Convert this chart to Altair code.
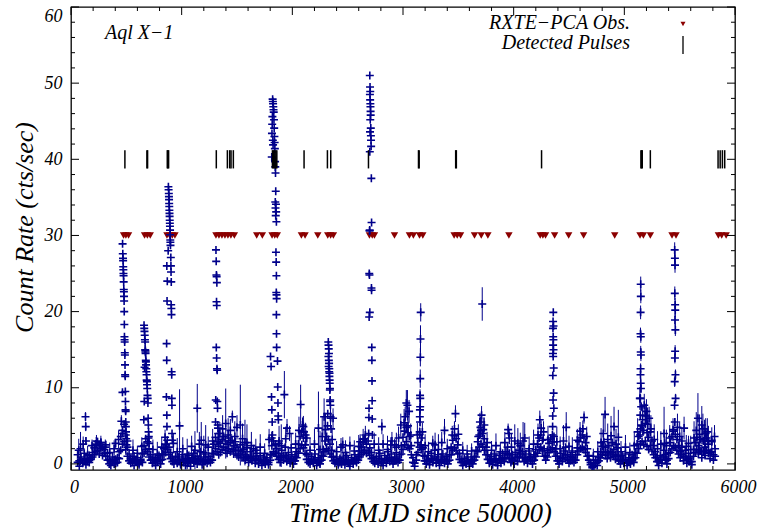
import altair as alt
import pandas as pd

NAVY = "#00008B"
DARKRED = "#8B0000"
FONT = "Liberation Serif"

# ---------------- axis tick values ----------------
x_major = [0, 1000, 2000, 3000, 4000, 5000, 6000]
x_minor = [200, 400, 600, 800, 1200, 1400, 1600, 1800, 2200, 2400, 2600, 2800,
           3200, 3400, 3600, 3800, 4200, 4400, 4600, 4800, 5200, 5400, 5600, 5800]
y_major = [0, 10, 20, 30, 40, 50, 60]
y_minor = [2, 4, 6, 8, 12, 14, 16, 18, 22, 24, 26, 28, 32, 34, 36, 38,
           42, 44, 46, 48, 52, 54, 56, 58]

# ---------------- quiescent / baseline light curve ----------------
base_t = [
    60, 75, 90, 105, 120, 135, 150, 165, 180, 195, 210, 225, 240, 255, 270, 285, 300, 315, 330, 345,
    360, 375, 390, 405, 420, 435, 450, 465, 480, 495, 510, 525, 540, 555, 570, 585, 600, 615, 630, 645,
    660, 675, 690, 705, 720, 735, 750, 765, 780, 795, 810, 825, 840, 855, 870, 885, 900, 915, 930, 945,
    960, 975, 990, 1005, 1020, 1035, 1050, 1065, 1080, 1095, 1110, 1125, 1140, 1155, 1170, 1185, 1200, 1215, 1230, 1245,
    1260, 1275, 1290, 1305, 1320, 1335, 1350, 1365, 1380, 1395, 1410, 1425, 1440, 1455, 1470, 1485, 1500, 1515, 1530, 1545,
    1560, 1575, 1590, 1605, 1620, 1635, 1650, 1665, 1680, 1695, 1710, 1725, 1740, 1755, 1770, 1785, 1800, 1815, 1830, 1845,
    1860, 1875, 1890, 1905, 1920, 1935, 1950, 1965, 1980, 1995, 2010, 2025, 2040, 2055, 2070, 2085, 2100, 2115, 2130, 2145,
    2160, 2175, 2190, 2205, 2220, 2235, 2250, 2265, 2280, 2295, 2310, 2325, 2340, 2355, 2370, 2385, 2400, 2415, 2430, 2445,
    2460, 2475, 2490, 2505, 2520, 2535, 2550, 2565, 2580, 2595, 2610, 2625, 2640, 2655, 2670, 2685, 2700, 2715, 2730, 2745,
    2760, 2775, 2790, 2805, 2820, 2835, 2850, 2865, 2880, 2895, 2910, 2925, 2940, 2955, 2970, 2985, 3000, 3015, 3030, 3045,
    3060, 3075, 3090, 3105, 3120, 3135, 3150, 3165, 3180, 3195, 3210, 3225, 3240, 3255, 3270, 3285, 3300, 3315, 3330, 3345,
    3360, 3375, 3390, 3405, 3420, 3435, 3450, 3465, 3480, 3495, 3510, 3525, 3540, 3555, 3570, 3585, 3600, 3615, 3630, 3645,
    3660, 3675, 3690, 3705, 3720, 3735, 3750, 3765, 3780, 3795, 3810, 3825, 3840, 3855, 3870, 3885, 3900, 3915, 3930, 3945,
    3960, 3975, 3990, 4005, 4020, 4035, 4050, 4065, 4080, 4095, 4110, 4125, 4140, 4155, 4170, 4185, 4200, 4215, 4230, 4245,
    4260, 4275, 4290, 4305, 4320, 4335, 4350, 4365, 4380, 4395, 4410, 4425, 4440, 4455, 4470, 4485, 4500, 4515, 4530, 4545,
    4560, 4575, 4590, 4605, 4620, 4635, 4650, 4665, 4680, 4695, 4710, 4725, 4740, 4755, 4770, 4785, 4800, 4815, 4830, 4845,
    4860, 4875, 4890, 4905, 4920, 4935, 4950, 4965, 4980, 4995, 5010, 5025, 5040, 5055, 5070, 5085, 5100, 5115, 5130, 5145,
    5160, 5175, 5190, 5205, 5220, 5235, 5250, 5265, 5280, 5295, 5310, 5325, 5340, 5355, 5370, 5385, 5400, 5415, 5430, 5445,
    5460, 5475, 5490, 5505, 5520, 5535, 5550, 5565, 5580, 5595, 5610, 5625, 5640, 5655, 5670, 5685, 5700, 5715, 5730, 5745,
    5760, 5775, 5790, 5805, 5820,
]
base_v = [
    1.2, 0.4, 0.9, 0.2, 1.4, 0.7, 0.3, 1.1, 0.6, 1.5, 2.1, 2.6, 2.9, 2.4, 2.8, 2.2, 1.9, 2.5, 1.4, 0.6,
    0.3, 0.9, 0.5, 0.1, 0.8, 1.6, 3.6, 4.4, 5.2, 3.8, 2.2, 1.3, 0.7, 0.2, 1.0, 0.4, 0.8, 0.1, 0.6, 1.3,
    2.4, 3.3, 2.9, 2.0, 1.2, 0.6, 0.2, 0.8, 0.4, 1.1, 0.5, 1.3, 2.0, 2.6, 3.1, 2.2, 1.5, 0.9, 0.4, 1.0,
    0.5, 0.9, 0.2, 1.2, 0.6, -0.2, 0.7, 1.1, 0.3, 0.8, 1.4, 0.4, 1.0, 0.6, 1.6, 0.3, 0.9, 1.3, 0.5, 1.0,
    0.6, 1.4, 2.6, 3.5, 2.9, 2.3, 2.7, 3.2, 3.6, 3.0, 2.6, 3.4, 2.8, 3.1, 2.4, 2.9, 2.2, 1.8, 2.5, 1.6,
    1.9, 1.2, 2.1, 0.8, 1.6, 1.0, 2.0, 0.7, 1.4, 0.5, 1.1, 0.3, 0.9, 0.4, 0.8, 0.2, 1.2, 2.4, 3.0, 2.6,
    2.0, 1.4, 0.8, 1.8, 1.1, 2.2, 0.9, 1.5, 0.6, 1.2, 0.4, 1.0, 1.6, 2.6, 3.6, 4.2, 3.4, 2.5, 1.2, 0.6,
    0.3, 1.0, 0.5, 1.3, 0.2, 0.8, 0.4, 1.1, 1.9, 3.0, 3.6, 3.2, 2.6, 1.8, 1.0, 0.5, 0.9, 0.2, 0.7, 0.4,
    0.9, 0.3, 1.1, 0.5, 0.1, 0.8, 0.4, 1.2, 0.6, 1.0, 1.7, 2.2, 2.8, 3.3, 2.6, 3.0, 2.1, 1.5, 0.8, 0.4,
    1.0, 0.3, 1.4, 0.7, 0.2, 1.1, 0.5, 1.6, 0.8, 1.3, 0.4, 0.9, 1.5, 0.6, 1.2, 2.4, 3.5, 4.3, 4.8, 4.1,
    3.6, 2.4, 0.8, 0.1, 1.2, 2.8, 3.9, 3.4, 2.1, 1.0, 0.4, 1.1, 0.3, 1.4, 0.7, 1.8, 0.5, 1.2, 0.2, 0.9,
    1.3, 0.6, 1.0, 0.4, 1.2, 2.2, 3.1, 3.7, 3.3, 2.5, 1.4, 0.6, 0.2, 0.7, 0.3, 0.9, 0.1, 0.6, 0.4, 1.0,
    1.8, 2.9, 3.8, 4.4, 4.0, 3.3, 2.2, 1.2, 0.6, 1.0, 0.3, 1.3, 0.7, 0.2, 1.1, 0.5, 1.4, 0.8, 1.6, 2.2,
    1.4, 0.7, 1.2, 0.4, 1.5, 0.9, 1.8, 2.4, 1.6, 0.8, 1.3, 0.5, 1.7, 1.0, 0.4, 1.2, 1.9, 2.6, 3.4, 3.8,
    3.1, 2.0, 1.1, 1.8, 2.7, 3.4, 3.8, 2.9, 2.0, 1.0, 0.4, 1.4, 0.8, 1.7, 2.2, 1.2, 0.5, 1.0, 1.5, 0.6,
    1.2, 2.1, 2.9, 3.5, 3.8, 3.4, 2.8, 2.0, 1.1, 0.2, -0.3, 0.1, 0.5, 0.2, 0.9, 1.6, 2.3, 2.9, 2.2, 1.5,
    2.4, 1.6, 2.8, 1.9, 1.2, 2.1, 1.0, 0.4, 1.1, 0.5, 1.3, 0.2, 0.8, 0.4, 1.2, 0.7, 1.5, 2.6, 3.6, 4.6,
    5.0, 4.4, 5.3, 4.1, 3.5, 4.2, 3.0, 2.4, 1.6, 0.9, 0.3, 1.1, 0.6, 1.8, 1.2, 0.5, 1.4, 2.8, 3.6, 4.3,
    3.9, 3.2, 2.4, 1.6, 2.2, 1.0, 1.8, 0.6, 1.4, 0.9, 0.3, 1.9, 2.8, 3.5, 2.4, 3.2, 1.6, 3.0, 2.2, 3.4,
    2.6, 1.5, 3.1, 1.2, 2.0,
]
base_v2 = [
    0.2, -0.3, 0.5, 0.1, 0.6, -0.1, 0.4, 0.2, 0.8, 0.9, 1.2, 1.6, 1.8, 1.3, 2.0, 1.1, 1.4, 1.0, 0.5, 0.0,
    -0.2, 0.3, 0.0, 0.6, 0.2, 0.7, 1.8, 2.6, 2.9, 1.9, 1.0, 0.4, 0.1, 0.6, -0.2, 0.3, 0.5, -0.1, 0.4, 0.2,
    1.4, 1.9, 1.6, 0.9, 0.5, 0.1, 0.6, -0.2, 0.3, 0.5, 0.0, 0.6, 1.2, 1.5, 1.9, 1.2, 0.7, 0.3, 0.0, 0.5,
    0.1, 0.4, -0.1, 0.6, 0.2, 0.5, 0.1, 0.3, -0.3, 0.5, 0.2, 0.7, 0.0, 0.4, 0.6, -0.1, 0.3, 0.5, 0.1, 0.4,
    0.2, 0.5, 1.3, 2.0, 1.6, 1.2, 1.5, 1.9, 2.2, 1.8, 1.4, 2.0, 1.6, 1.9, 1.3, 1.7, 1.1, 0.9, 1.3, 0.8,
    0.8, 0.5, 1.0, 0.2, 0.7, 0.4, 0.9, 0.1, 0.6, 0.0, 0.5, -0.2, 0.3, 0.0, 0.4, -0.1, 0.5, 1.2, 1.6, 1.4,
    1.0, 0.6, 0.2, 0.9, 0.5, 1.1, 0.3, 0.7, 0.1, 0.6, 0.0, 0.4, 0.8, 1.4, 2.0, 2.5, 2.1, 1.4, 0.6, 0.2,
    0.0, 0.4, 0.1, 0.6, -0.2, 0.3, 0.0, 0.5, 1.0, 1.6, 2.0, 1.8, 1.3, 0.9, 0.4, 0.1, 0.3, -0.1, 0.2, 0.0,
    0.3, -0.1, 0.5, 0.1, -0.3, 0.4, 0.0, 0.6, 0.2, 0.5, 0.9, 1.2, 1.5, 1.8, 1.4, 1.7, 1.1, 0.7, 0.3, 0.1,
    0.4, 0.0, 0.7, 0.2, -0.2, 0.5, 0.1, 0.8, 0.3, 0.6, 0.0, 0.4, 0.7, 0.2, 0.5, 1.3, 1.9, 2.5, 2.9, 2.2,
    2.0, 1.2, 0.2, -0.3, 0.5, 1.5, 2.2, 1.9, 1.1, 0.4, 0.0, 0.5, -0.1, 0.6, 0.2, 0.9, 0.1, 0.5, -0.2, 0.3,
    0.6, 0.1, 0.4, 0.0, 0.5, 1.2, 1.8, 2.1, 1.8, 1.3, 0.6, 0.2, -0.2, 0.3, 0.0, 0.4, -0.3, 0.2, 0.0, 0.5,
    0.9, 1.6, 2.2, 2.6, 2.3, 1.8, 1.2, 0.6, 0.1, 0.4, -0.1, 0.6, 0.2, -0.2, 0.5, 0.1, 0.7, 0.3, 0.8, 1.2,
    0.7, 0.2, 0.5, 0.0, 0.8, 0.3, 0.9, 1.3, 0.8, 0.3, 0.6, 0.1, 0.8, 0.4, 0.0, 0.5, 1.0, 1.4, 1.9, 2.2,
    1.7, 1.0, 0.5, 0.9, 1.5, 1.9, 2.1, 1.6, 1.0, 0.4, 0.0, 0.7, 0.3, 0.8, 1.2, 0.6, 0.1, 0.4, 0.8, 0.2,
    0.5, 1.2, 1.7, 2.0, 2.2, 1.9, 1.5, 1.0, 0.5, -0.1, -0.5, -0.3, 0.1, -0.2, 0.4, 0.8, 1.2, 1.6, 1.1, 0.7,
    1.3, 0.8, 1.5, 1.0, 0.6, 1.1, 0.4, 0.0, 0.5, 0.1, 0.6, -0.2, 0.3, 0.0, 0.5, 0.2, 0.8, 1.4, 2.0, 2.6,
    2.9, 2.5, 3.0, 2.3, 1.9, 2.4, 1.7, 1.2, 0.8, 0.3, -0.2, 0.5, 0.1, 0.9, 0.5, 0.0, 0.7, 1.5, 2.0, 2.4,
    2.2, 1.8, 1.3, 0.8, 1.2, 0.4, 0.9, 0.1, 0.7, 0.3, -0.1, 1.0, 1.5, 1.9, 1.3, 1.7, 0.8, 1.6, 1.1, 1.8,
    1.4, 0.7, 1.6, 0.5, 1.0,
]

# noisier single dwells with their error bars: (MJD-50000, rate, error)
scatter = [
    (70, 1.8, 1.5), (110, 2.6, 1.0), (150, 1.2, 1.2), (190, 2.4, 0.8), (230, 3.0, 0.8), (270, 2.8, 0.9),
    (310, 2.2, 1.0), (350, 1.5, 1.3), (390, 2.0, 1.1), (430, 3.2, 1.2), (455, 5.6, 0.8), (510, 3.0, 1.0),
    (560, 1.8, 1.4), (600, 1.4, 1.0), (640, 2.3, 1.2), (700, 3.4, 0.9), (740, 1.9, 1.3), (780, 1.3, 1.6),
    (820, 2.2, 1.2), (850, 3.5, 1.0), (925, 2.7, 1.3), (960, 1.6, 1.8), (1010, 2.0, 1.5), (1050, 1.3, 2.0),
    (1090, 2.3, 1.4), (1120, 1.8, 2.5), (1160, 2.6, 1.6), (1200, 1.5, 2.2), (1240, 2.2, 1.4), (1280, 3.0, 1.6),
    (1345, 4.0, 1.5), (1370, 4.6, 1.8), (1420, 3.8, 2.2), (1440, 4.4, 1.5), (1480, 3.6, 2.0), (1500, 4.8, 1.6),
    (1550, 3.3, 2.0), (1590, 2.8, 2.4), (1630, 2.4, 1.8), (1670, 1.8, 1.5), (1710, 2.2, 1.7), (1750, 1.4, 1.3),
    (1790, 3.2, 1.4), (1880, 3.0, 2.0), (1900, 2.4, 2.8), (1940, 3.3, 1.6), (1990, 2.1, 1.9), (2030, 2.6, 1.5),
    (2060, 4.4, 1.8), (2100, 4.9, 1.4), (2120, 3.8, 1.6), (2160, 1.8, 1.6), (2200, 2.6, 2.0), (2250, 1.9, 2.4),
    (2270, 3.6, 2.6), (2300, 4.5, 2.2), (2360, 3.2, 1.5), (2400, 1.6, 1.4), (2440, 2.2, 1.2), (2480, 1.5, 1.6),
    (2520, 2.4, 1.2), (2560, 1.7, 1.4), (2600, 2.3, 1.5), (2640, 3.2, 1.4), (2660, 3.8, 1.2), (2740, 2.6, 1.5),
    (2780, 1.8, 1.7), (2820, 2.6, 1.3), (2860, 1.9, 1.8), (2900, 3.0, 1.2), (2940, 2.2, 1.9), (2960, 3.4, 1.5),
    (3010, 5.4, 1.8), (3020, 6.2, 1.3), (3045, 5.0, 2.0), (3070, 3.8, 1.5), (3130, 3.8, 1.6), (3175, 4.2, 1.2),
    (3200, 2.4, 1.5), (3230, 1.6, 1.3), (3290, 2.5, 1.6), (3320, 1.9, 2.0), (3350, 2.8, 1.4), (3400, 2.0, 1.3),
    (3445, 3.8, 1.2), (3465, 4.6, 1.0), (3500, 3.9, 1.3), (3540, 1.8, 1.1), (3580, 1.3, 1.2), (3620, 1.7, 1.0),
    (3680, 3.6, 1.5), (3700, 4.8, 1.4), (3725, 4.5, 1.6), (3760, 2.8, 1.4), (3800, 1.8, 1.2), (3840, 2.4, 1.6),
    (3880, 1.6, 1.3), (3920, 2.8, 1.4), (3980, 2.2, 1.8), (4010, 3.0, 2.2), (4060, 2.4, 1.7), (4100, 3.4, 2.0),
    (4140, 2.0, 1.6), (4180, 2.6, 1.9), (4220, 3.8, 1.5), (4270, 4.2, 1.4), (4310, 3.2, 1.8), (4390, 2.9, 2.0),
    (4420, 2.0, 1.6), (4450, 3.0, 2.1), (4500, 2.3, 1.4), (4530, 1.7, 1.8), (4575, 3.1, 1.5), (4600, 4.3, 1.2),
    (4625, 4.6, 1.1), (4660, 3.6, 1.3), (4720, 1.0, 1.0), (4760, 1.6, 1.4), (4790, 2.8, 1.9), (4810, 4.0, 2.4),
    (4850, 3.2, 2.1), (4880, 3.7, 2.6), (4925, 2.6, 2.0), (4970, 1.6, 1.4), (5010, 2.2, 1.6), (5050, 1.5, 1.3),
    (5090, 2.4, 1.8), (5120, 4.2, 1.8), (5165, 5.8, 2.0), (5190, 6.3, 1.6), (5210, 5.2, 2.2), (5240, 4.6, 1.8),
    (5270, 3.2, 2.0), (5300, 2.0, 2.3), (5330, 2.6, 1.7), (5380, 2.4, 2.1), (5410, 3.4, 1.7), (5440, 4.5, 1.5),
    (5480, 4.8, 1.8), (5500, 3.6, 2.0), (5520, 3.0, 1.8), (5560, 2.3, 1.5), (5600, 1.9, 1.8), (5630, 3.4, 2.2),
    (5650, 4.4, 2.4), (5680, 3.9, 2.6), (5710, 4.6, 2.0), (5725, 3.3, 2.5), (5750, 4.2, 1.8), (5790, 2.9, 1.9),
    (5815, 3.6, 1.5),
]

# ---------------- outbursts: (MJD-50000, count rate) ----------------
ob1 = [(466, 28.9), (468, 27.6), (470, 27.0), (471, 26.7), (472, 25.9), (473, 25.5), (474, 25.0),
       (475, 24.7), (476, 23.9), (477, 22.9), (478, 22.6), (479, 22.0), (480, 21.4), (481, 20.0),
       (482, 18.3), (483, 16.7), (484, 16.3), (485, 16.0), (486, 14.6), (487, 14.3), (488, 13.0),
       (489, 11.7), (490, 11.5), (491, 9.5), (492, 8.2), (493, 7.1), (494, 6.9), (495, 5.5),
       (496, 4.9), (497, 4.2), (499, 3.3), (501, 2.5), (463, 4.0), (465, 9.4)]
ob2 = [(660, 18.2), (662, 17.8), (664, 17.4), (666, 16.9), (668, 16.3), (670, 16.0), (672, 14.9),
       (673, 14.7), (674, 14.5), (676, 13.6), (677, 13.4), (678, 13.0), (680, 12.5), (681, 12.1),
       (683, 11.7), (684, 11.0), (686, 10.8), (687, 10.4), (689, 9.9), (691, 9.0), (693, 8.6),
       (695, 8.0), (697, 6.0), (699, 5.1), (701, 4.2), (703, 3.6), (706, 2.7), (658, 5.8),
       (662, 8.2), (665, 12.7), (670, 15.0)]
ob3 = [(880, 36.4), (882, 36.0), (884, 35.5), (885, 35.1), (886, 34.7), (887, 34.2), (888, 33.8),
       (889, 33.3), (890, 32.9), (891, 32.5), (892, 32.0), (893, 31.6), (894, 31.2), (895, 30.7),
       (896, 30.1), (897, 29.4), (898, 29.1), (899, 28.7), (878, 28.0), (902, 27.1), (903, 26.0),
       (866, 26.0), (904, 25.2), (870, 24.0), (906, 23.9), (868, 21.4), (905, 20.9), (907, 20.4),
       (908, 19.6), (864, 15.8), (865, 13.6), (909, 12.1), (910, 11.7), (862, 8.8), (911, 8.6),
       (912, 7.7), (866, 6.4), (867, 4.9), (913, 4.0), (915, 3.1), (860, 2.5)]
ob4 = [(1310, 28.1), (1312, 26.6), (1314, 24.8), (1316, 24.6), (1318, 23.8), (1315, 21.3),
       (1317, 20.8), (1313, 15.3), (1316, 13.9), (1319, 12.5), (1321, 12.3), (1308, 8.4),
       (1322, 8.2), (1324, 7.3), (1306, 5.5), (1326, 5.1), (1328, 4.7), (1330, 4.0), (1333, 2.9)]
ob5 = [(1822, 47.9), (1824, 47.6), (1826, 47.3), (1828, 46.9), (1830, 46.5), (1832, 46.2),
       (1820, 45.6), (1834, 45.2), (1818, 44.6), (1836, 44.1), (1816, 43.4), (1838, 43.0),
       (1824, 42.5), (1840, 42.2), (1826, 41.9), (1842, 41.4), (1814, 40.3), (1844, 39.7),
       (1846, 39.0), (1848, 38.2), (1850, 35.8), (1846, 34.4), (1852, 34.1), (1848, 33.6),
       (1854, 33.1), (1850, 32.6), (1856, 31.8),
       (1852, 27.8), (1854, 26.5), (1856, 24.7), (1855, 22.5), (1857, 22.2), (1858, 21.7),
       (1856, 19.6), (1857, 17.1), (1858, 15.3), (1803, 14.1), (1866, 13.5), (1808, 12.8),
       (1868, 10.1), (1812, 8.8), (1870, 8.0), (1815, 7.1), (1872, 6.3), (1874, 5.8),
       (1818, 5.5), (1820, 3.8), (1878, 2.7)]
ob6 = [(2325, 16.0), (2327, 15.6), (2329, 15.1), (2331, 14.5), (2326, 14.1), (2330, 13.6),
       (2332, 13.2), (2328, 12.8), (2334, 12.5), (2333, 12.1), (2336, 11.9), (2335, 11.5),
       (2337, 11.0), (2338, 10.6), (2340, 9.9), (2339, 9.7), (2342, 8.4), (2341, 8.2),
       (2344, 7.7), (2320, 6.6), (2346, 6.0), (2318, 5.0), (2350, 4.6)]
ob7 = [(2700, 51.0), (2702, 49.5), (2704, 48.9), (2701, 48.5), (2703, 47.8), (2705, 47.3),
       (2706, 46.9), (2707, 46.3), (2708, 45.8), (2704, 45.2), (2709, 44.1), (2702, 43.6),
       (2710, 43.1), (2711, 42.5), (2712, 41.7), (2700, 41.0), (2714, 37.5), (2716, 31.7),
       (2698, 30.6), (2699, 30.7), (2695, 25.0), (2697, 24.8), (2715, 23.1), (2716, 22.8),
       (2700, 19.9), (2694, 19.3), (2718, 15.3), (2719, 13.6), (2720, 10.9), (2721, 8.3),
       (2693, 7.3), (2692, 6.1), (2722, 5.9), (2690, 4.0), (2724, 3.8)]
ob10 = [(4358, 19.9), (4356, 18.7), (4360, 18.1), (4355, 17.8), (4357, 16.7), (4359, 16.3),
        (4356, 15.6), (4360, 15.0), (4355, 14.5), (4357, 14.1), (4362, 12.6), (4354, 11.6),
        (4361, 9.3), (4356, 8.4), (4363, 7.3), (4353, 6.3), (4352, 4.9), (4364, 3.6), (4350, 2.9)]

# ---------------- points with visible error bars: (MJD-50000, rate, error) ----------------
ob8 = [(3160, 19.9, 1.2), (3158, 16.4, 1.8), (3157, 14.0, 1.2), (3156, 11.2, 1.2), (3154, 9.0, 0.8),
       (3156, 8.6, 0.8), (3155, 7.5, 0.8), (3153, 7.1, 0.7), (3152, 6.2, 0.7), (3154, 5.5, 0.6),
       (3151, 4.2, 0.6), (3163, 2.5, 0.5)]
ob9 = [(3716, 21.0, 2.2)]
ob11 = [(5148, 23.6, 1.0), (5149, 22.0, 0.9), (5147, 19.9, 0.9), (5146, 17.1, 0.8), (5149, 16.7, 0.8),
        (5148, 14.7, 0.8), (5150, 14.3, 0.8), (5147, 12.5, 0.7), (5146, 11.7, 0.7), (5148, 10.6, 0.7),
        (5150, 9.9, 0.6), (5145, 8.6, 0.6), (5152, 7.5, 0.6), (5144, 6.4, 0.5), (5154, 5.1, 0.5),
        (5142, 3.8, 0.5)]
ob12 = [(5455, 28.1, 1.0), (5457, 27.0, 1.0), (5458, 26.1, 1.0), (5456, 22.4, 0.9), (5459, 20.9, 0.9),
        (5460, 20.2, 0.9), (5458, 18.9, 0.8), (5461, 17.6, 0.8), (5459, 14.8, 0.8), (5457, 13.9, 0.7),
        (5462, 11.7, 0.7), (5455, 10.8, 0.7), (5463, 8.6, 0.6), (5454, 7.7, 0.6), (5456, 5.5, 0.5)]
spikes = [(86, 2.0, 2.2), (131, 6.2, 0.6), (133, 4.9, 0.6), (135, 3.0, 0.5), (403, 2.7, 0.6),
          (981, 5.0, 4.8), (1141, 7.3, 3.2), (1177, 3.1, 2.4), (1217, 2.5, 2.6), (1398, 5.3, 4.6),
          (1458, 6.2, 0.8), (1530, 5.1, 5.3), (1572, 2.8, 3.0), (1814, 3.4, 0.8), (1928, 9.1, 3.1),
          (1952, 4.7, 1.2), (1975, 4.0, 1.0), (2075, 7.8, 2.6), (2092, 5.1, 1.0), (2105, 4.2, 0.9),
          (2130, 3.4, 1.0), (2236, 4.7, 4.8), (2287, 6.2, 2.4), (2345, 6.2, 1.5), (2368, 6.0, 1.3),
          (2456, 2.5, 1.0), (2613, 2.9, 1.0), (2809, 4.9, 1.0), (2890, 2.5, 1.0), (2925, 2.5, 0.8),
          (2980, 5.1, 1.5), (3030, 8.0, 1.7), (3040, 7.7, 2.0), (3055, 6.9, 1.5), (3269, 2.7, 1.0),
          (3375, 4.4, 1.5), (3474, 6.6, 1.1), (3695, 5.5, 1.2), (3710, 6.4, 1.2), (3735, 5.1, 1.0),
          (3950, 4.5, 0.8), (3956, 4.0, 0.8), (3962, 3.4, 0.8), (4038, 2.7, 2.0), (4085, 3.0, 2.5),
          (4236, 5.8, 1.2), (4248, 4.7, 1.0), (4475, 4.8, 2.0), (4636, 6.1, 0.8), (4826, 6.5, 2.3),
          (4907, 4.9, 2.6), (4946, 3.5, 3.6), (5140, 8.6, 1.5), (5180, 7.7, 1.5), (5200, 6.9, 1.6),
          (5224, 6.0, 1.5), (5359, 4.0, 3.5), (5365, 2.7, 1.0), (5540, 4.7, 1.5), (5580, 2.7, 1.0),
          (5665, 6.0, 3.3), (5700, 5.1, 2.5), (5735, 4.0, 2.0), (5760, 3.0, 2.0)]

# ---------------- RXTE-PCA observations and detected pulses ----------------
obs_t = [475, 496, 520, 665, 690, 716, 867, 891, 915, 939, 1310, 1337, 1364, 1391, 1418, 1445, 1476,
         1678, 1729, 1817, 1841, 1864, 2082, 2115, 2230, 2320, 2346, 2371, 2697, 2722, 2742, 2923,
         3058, 3094, 3149, 3179, 3462, 3490, 3520, 3646, 3707, 3767, 3957, 4240, 4264, 4288, 4370,
         4497, 4632, 4913, 5142, 5172, 5235, 5431, 5467, 5850, 5880, 5920]
pulse_t = [487, 686, 692, 870, 876, 882, 1313, 1413, 1434, 1446, 1467, 1820, 1828, 1836, 1844, 1852,
           1860, 2106, 2317, 2347, 2688, 3140, 3146, 3476, 3482, 4252, 5150, 5156, 5162, 5235,
           5847, 5866, 5886, 5907]
OBS_LEVEL = 30
PULSE_LO, PULSE_HI = 38.8, 41.2

# ---------------- tables ----------------
pair_sets = ob1 + ob2 + ob3 + ob4 + ob5 + ob6 + ob7 + ob10
trip_sets = scatter + ob8 + ob9 + ob11 + ob12 + spikes

pts = pd.DataFrame({
    "t": base_t + base_t + [p[0] for p in pair_sets] + [p[0] for p in trip_sets],
    "v": base_v + base_v2 + [p[1] for p in pair_sets] + [p[1] for p in trip_sets],
})
errs = pd.DataFrame({"t": [p[0] for p in trip_sets], "v": [p[1] for p in trip_sets],
                     "e": [p[2] for p in trip_sets]})
obs = pd.DataFrame({"t": obs_t})
pulses = pd.DataFrame({"t": pulse_t})

W, H = 664, 463
xs = alt.Scale(domain=[0, 6000], nice=False, zero=False)
ys = alt.Scale(domain=[-0.8, 60], nice=False, zero=False)

x_axis = alt.Axis(values=x_major, format="d", ticks=False, domain=False, grid=False,
                  labelFont=FONT, labelFontStyle="italic", labelFontSize=18, labelColor="black",
                  labelPadding=8, labelFlush=False, labelOverlap=False, labelOffset=3,
                  title="Time (MJD since 50000)", titleFont=FONT, titleFontStyle="italic",
                  titleFontWeight="normal", titleFontSize=26.5, titleColor="black",
                  titleX=349, titleY=43, titleAlign="center", titleBaseline="middle")
y_axis = alt.Axis(values=y_major, format="d", ticks=False, domain=False, grid=False,
                  labelFont=FONT, labelFontStyle="italic", labelFontSize=18, labelColor="black",
                  labelPadding=9, labelFlush=True, labelOverlap=False,
                  title="Count Rate (cts/sec)", titleFont=FONT, titleFontStyle="italic",
                  titleFontWeight="normal", titleFontSize=26, titleColor="black",
                  titleX=-47, titleY=220, titleAngle=270, titleAlign="center", titleBaseline="middle")

X = alt.X("t:Q", scale=xs, axis=x_axis)

errbars = alt.Chart(errs).transform_calculate(
    lo="datum.v - datum.e", hi="datum.v + datum.e"
).mark_rule(color=NAVY, strokeWidth=1, clip=True).encode(
    x=X, y=alt.Y("lo:Q", scale=ys, axis=y_axis), y2="hi:Q")

CROSS = "M-1,0L1,0M0,-1L0,1"
crosses = alt.Chart(pts).mark_point(shape=CROSS, filled=False, color=NAVY, opacity=1,
                                    strokeWidth=1.6, size=64, clip=True).encode(
    x=X, y=alt.Y("v:Q", scale=ys, axis=y_axis))

tri = alt.Chart(obs).mark_point(shape="triangle-down", filled=True, color=DARKRED, opacity=1,
                                size=55).encode(x=X, y=alt.Y(datum=OBS_LEVEL, scale=ys, axis=y_axis))

pul = alt.Chart(pulses).mark_rule(color="black", strokeWidth=1.5).encode(
    x=X, y=alt.Y(datum=PULSE_LO, scale=ys, axis=y_axis), y2=alt.Y2(datum=PULSE_HI))

# inward ticks on all four sides
xmaj = pd.DataFrame({"t": x_major})
xmin = pd.DataFrame({"t": x_minor})
ymaj = pd.DataFrame({"v": y_major})
ymin = pd.DataFrame({"v": y_minor})
tick_layers = []
for df, ln in ((xmaj, 8), (xmin, 4)):
    tick_layers.append(alt.Chart(df).mark_rule(color="black", strokeWidth=1).encode(
        x=X, y=alt.value(H), y2=alt.value(H - ln)))
    tick_layers.append(alt.Chart(df).mark_rule(color="black", strokeWidth=1).encode(
        x=X, y=alt.value(0), y2=alt.value(ln)))
for df, ln in ((ymaj, 8), (ymin, 4)):
    tick_layers.append(alt.Chart(df).mark_rule(color="black", strokeWidth=1).encode(
        y=alt.Y("v:Q", scale=ys, axis=y_axis), x=alt.value(0), x2=alt.value(ln)))
    tick_layers.append(alt.Chart(df).mark_rule(color="black", strokeWidth=1).encode(
        y=alt.Y("v:Q", scale=ys, axis=y_axis), x=alt.value(W), x2=alt.value(W - ln)))

one = pd.DataFrame({"k": [0]})
lab_src = alt.Chart(one).mark_text(text="Aql X\u22121", font=FONT, fontStyle="italic", fontSize=20,
                                   align="left", baseline="middle", color="black").encode(
    x=alt.value(34), y=alt.value(26))
leg1 = alt.Chart(one).mark_text(text="RXTE\u2212PCA Obs.", font=FONT, fontStyle="italic", fontSize=20,
                                align="right", baseline="middle", color="black").encode(
    x=alt.value(559), y=alt.value(16))
leg2 = alt.Chart(one).mark_text(text="Detected Pulses", font=FONT, fontStyle="italic", fontSize=20,
                                align="right", baseline="middle", color="black").encode(
    x=alt.value(559), y=alt.value(36))
leg_tri = alt.Chart(one).mark_point(shape="triangle-down", filled=True, color=DARKRED, opacity=1,
                                    size=25).encode(x=alt.value(612), y=alt.value(17))
leg_tick = alt.Chart(one).mark_rule(color="black", strokeWidth=1.3).encode(
    x=alt.value(612), y=alt.value(29), y2=alt.value(47))

chart = alt.layer(
    errbars, tri, crosses, pul, *tick_layers, lab_src, leg1, leg2, leg_tri, leg_tick
).properties(
    width=W, height=H,
    autosize=alt.AutoSizeParams(type="none"),
    padding={"left": 71, "top": 7, "right": 25, "bottom": 59},
    background="white",
).configure_view(stroke="black", strokeWidth=1.3)

chart.save("out.html", embed_options={"renderer": "svg", "actions": False})
